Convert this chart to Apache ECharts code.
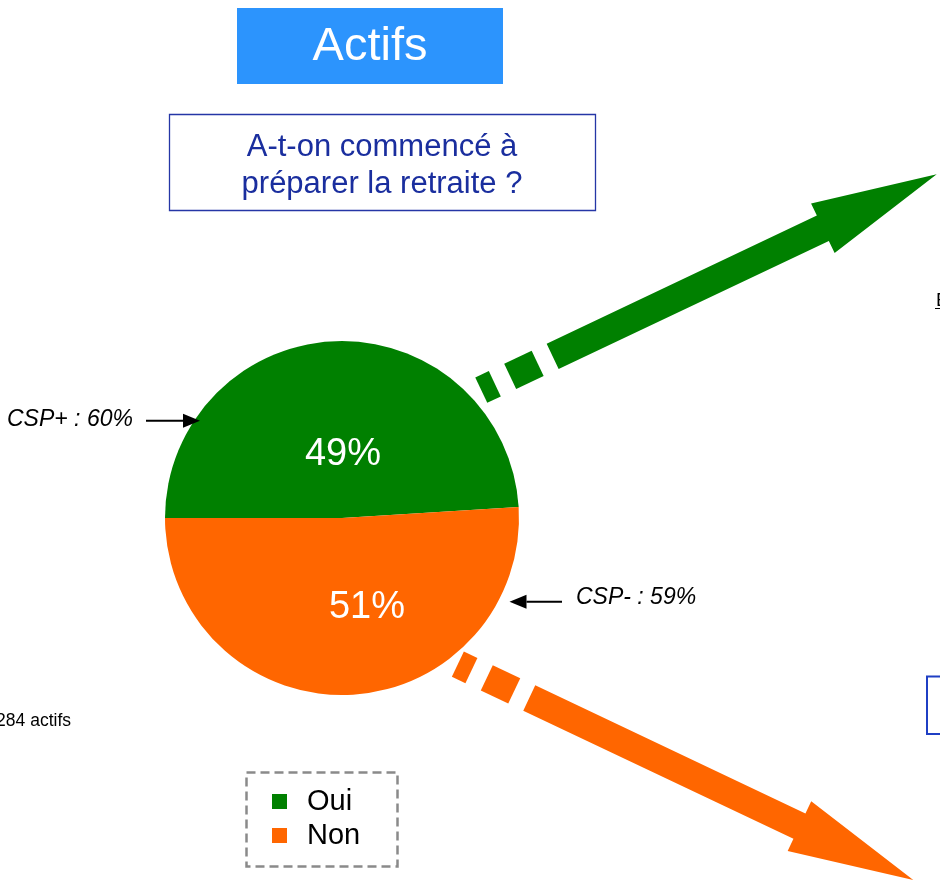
<!DOCTYPE html>
<html>
<head>
<meta charset="utf-8">
<title>Actifs</title>
<script src="https://cdn.jsdelivr.net/npm/echarts@6.0.0/dist/echarts.min.js"></script>
<style>
  html, body { margin: 0; padding: 0; background: #ffffff; }
  #chart { width: 940px; height: 885px; }
</style>
</head>
<body>
<div id="chart"></div>
<script>
// Answers to the question, share of working people (%)
const categories = ['Oui', 'Non'];
const shares = [49, 51];
// Breakdown notes attached to each slice
const segmentNotes = ['CSP+ : 60%', 'CSP- : 59%'];
const sliceColors = ['#008000', '#ff6600'];
const titleText = 'Actifs';
const questionText = 'A-t-on commencé à\npréparer la retraite ?';
const baseText = '284 actifs';

const FONT = '"Liberation Sans", Arial, Helvetica, sans-serif';

// Block arrow made of a head, a shaft and two dashes behind it.
// Distances are measured back from the tip along the arrow axis.
const ARROW = { head: 126, headHalf: 27.5, shaftEnd: 425, half: 14, dashes: [[441.6, 472], [489, 504]] };

function unit(dx, dy) {
  const l = Math.hypot(dx, dy);
  return [dx / l, dy / l];
}
function at(tip, u, d, w) {
  const n = [-u[1], u[0]];
  return [tip[0] - u[0] * d + n[0] * w, tip[1] - u[1] * d + n[1] * w];
}
function blockArrow(tip, u, color) {
  const a = ARROW;
  const body = [
    at(tip, u, 0, 0),
    at(tip, u, a.head, a.headHalf),
    at(tip, u, a.head, a.half),
    at(tip, u, a.shaftEnd, a.half),
    at(tip, u, a.shaftEnd, -a.half),
    at(tip, u, a.head, -a.half),
    at(tip, u, a.head, -a.headHalf)
  ];
  const parts = [{ type: 'polygon', z: 5, shape: { points: body }, style: { fill: color } }];
  a.dashes.forEach(([d0, d1]) => {
    parts.push({
      type: 'polygon', z: 5,
      shape: { points: [at(tip, u, d0, a.half), at(tip, u, d1, a.half), at(tip, u, d1, -a.half), at(tip, u, d0, -a.half)] },
      style: { fill: color }
    });
  });
  return parts;
}

// Thin pointer arrow for the notes
function pointer(x0, x1, y) {
  const dir = Math.sign(x1 - x0);
  const headLen = 17, headHalf = 7;
  return [
    { type: 'line', z: 6, shape: { x1: x0, y1: y, x2: x1 - dir * headLen, y2: y }, style: { stroke: '#000', lineWidth: 2 } },
    { type: 'polygon', z: 6, shape: { points: [[x1, y], [x1 - dir * headLen, y - headHalf], [x1 - dir * headLen, y + headHalf]] }, style: { fill: '#000' } }
  ];
}

const chart = echarts.init(document.getElementById('chart'), null, { renderer: 'canvas' });

const graphics = [
  // title banner
  { type: 'rect', z: 1, shape: { x: 237, y: 8, width: 266, height: 76 }, style: { fill: '#2c94fd' } },
  { type: 'text', z: 2, x: 370, y: 47, style: { text: titleText, font: '47px ' + FONT, fill: '#ffffff', align: 'center', verticalAlign: 'middle' } },
  // question box
  { type: 'rect', z: 1, shape: { x: 169.5, y: 114.5, width: 426, height: 96 }, style: { fill: '#ffffff', stroke: '#2536a6', lineWidth: 1.3 } },
  { type: 'text', z: 2, x: 382, y: 166, style: { text: questionText, font: '31px ' + FONT, lineHeight: 37, fill: '#1a2e9e', align: 'center', verticalAlign: 'middle' } },
  // slice value labels
  { type: 'text', z: 20, x: 343, y: 455, style: { text: shares[0] + '%', font: '38px ' + FONT, fill: '#ffffff', align: 'center', verticalAlign: 'middle' } },
  { type: 'text', z: 20, x: 367, y: 608, style: { text: shares[1] + '%', font: '38px ' + FONT, fill: '#ffffff', align: 'center', verticalAlign: 'middle' } },
  // breakdown notes
  { type: 'text', z: 6, x: 7, y: 420, style: { text: segmentNotes[0], font: 'italic 23px ' + FONT, fill: '#000', align: 'left', verticalAlign: 'middle' } },
  { type: 'text', z: 6, x: 576, y: 598, style: { text: segmentNotes[1], font: 'italic 23px ' + FONT, fill: '#000', align: 'left', verticalAlign: 'middle' } },
  ...pointer(146, 200, 420.7),
  ...pointer(562, 509.5, 601.7),
  // sample base
  { type: 'text', z: 6, x: 71, y: 721, style: { text: baseText, font: '17.5px ' + FONT, fill: '#000', align: 'right', verticalAlign: 'middle' } },
  // right-hand callouts cut by the page edge
  { type: 'text', z: 6, x: 936, y: 300.5, style: { text: 'E', font: '19px ' + FONT, fill: '#000', align: 'left', verticalAlign: 'middle' } },
  { type: 'line', z: 6, shape: { x1: 935, y1: 308.5, x2: 940, y2: 308.5 }, style: { stroke: '#000', lineWidth: 1 } },
  { type: 'rect', z: 6, shape: { x: 927, y: 676.5, width: 30, height: 57.5 }, style: { fill: 'transparent', stroke: '#1f3fc4', lineWidth: 2 } },
  // legend frame
  { type: 'rect', z: 1, shape: { x: 246.5, y: 772.5, width: 151, height: 94 }, style: { fill: 'transparent', stroke: '#8a8a8a', lineWidth: 2.5, lineDash: [9, 5] } },
  // block arrows
  ...blockArrow([936.7, 174.3], unit(384, -182), sliceColors[0]),
  ...blockArrow([913.3, 880], unit(384, 182), sliceColors[1])
];

chart.setOption({
  animation: false,
  backgroundColor: '#ffffff',
  color: sliceColors,
  legend: {
    data: categories,
    orient: 'vertical',
    left: 272,
    top: 787,
    padding: 0,
    icon: 'rect',
    itemWidth: 15,
    itemHeight: 15,
    itemGap: 5,
    selectedMode: false,
    textStyle: { fontFamily: FONT, fontSize: 29, color: '#000', lineHeight: 28, padding: [0, 0, 0, 15] }
  },
  graphic: { elements: graphics },
  series: [{
    type: 'pie',
    center: [342, 518],
    radius: 177,
    startAngle: 180,
    clockwise: true,
    silent: true,
    label: { show: false },
    labelLine: { show: false },
    itemStyle: { borderWidth: 0 },
    emphasis: { disabled: true },
    data: categories.map((name, i) => ({ name, value: shares[i] }))
  }]
});
</script>
</body>
</html>
